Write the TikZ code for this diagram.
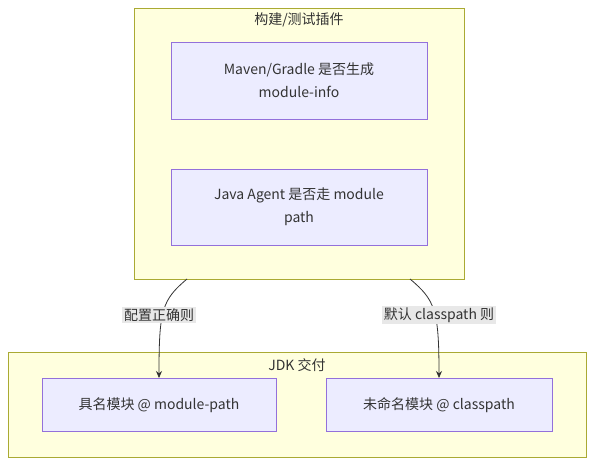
\documentclass[tikz,border=0pt]{standalone}
\usepackage{fontspec}
\setmainfont{Noto Sans CJK SC}
\usetikzlibrary{positioning,arrows.meta}
\definecolor{clfill}{HTML}{FFFFDE}
\definecolor{cldraw}{HTML}{AAAA33}
\definecolor{ndfill}{HTML}{ECECFF}
\definecolor{nddraw}{HTML}{9370DB}
\definecolor{lblbg}{HTML}{E8E8E8}
\definecolor{ink}{HTML}{333333}
\tikzset{
  cluster/.style={draw=cldraw, fill=clfill, line width=0.8pt},
  box/.style={draw=nddraw, fill=ndfill, line width=0.8pt},
  txt/.style={font=\fontsize{14}{23}\selectfont, text=ink, align=center},
  lbl/.style={txt, fill=lblbg, inner sep=2pt},
  edge/.style={draw=ink, line width=0.8pt, -{Stealth[length=7pt,width=6pt]}}
}
\begin{document}
\begin{tikzpicture}[x=1pt,y=-1pt]
	\useasboundingbox (0,0) rectangle (602,470);

	% clusters
	\draw[cluster] (134,8) rectangle (464,279);
	\node[txt] (build) at (299,20) {构建/测试插件};
	\draw[cluster] (8,352) rectangle (586,457);
	\node[txt] (jdk) at (297,365) {JDK 交付};

	% nodes
	\draw[box] (171,42) rectangle (427,119);
	\node[txt] (maven) at (299,80) {Maven/Gradle 是否生成\\module-info};
	\draw[box] (171,169) rectangle (427,245);
	\node[txt] (agent) at (299,207) {Java Agent 是否走 module\\path};
	\draw[box] (42,378) rectangle (276,431);
	\node[txt] (named) at (159,405) {具名模块 @ module-path};
	\draw[box] (326,378) rectangle (552,431);
	\node[txt] (unnamed) at (439,405) {未命名模块 @ classpath};

	% connectors
	\coordinate (outL) at (187,279);
	\coordinate (outR) at (410,279);
	\coordinate (inL) at (159,378);
	\coordinate (inR) at (439,378);
	\draw[edge] (outL) .. controls (162,300) and (159,310) .. (inL);
	\draw[edge] (outR) .. controls (435,300) and (439,310) .. (inR);
	\node[lbl] (ok) at (159,315) {配置正确则};
	\node[lbl] (dflt) at (439,315) {默认 classpath 则};
\end{tikzpicture}
\end{document}
